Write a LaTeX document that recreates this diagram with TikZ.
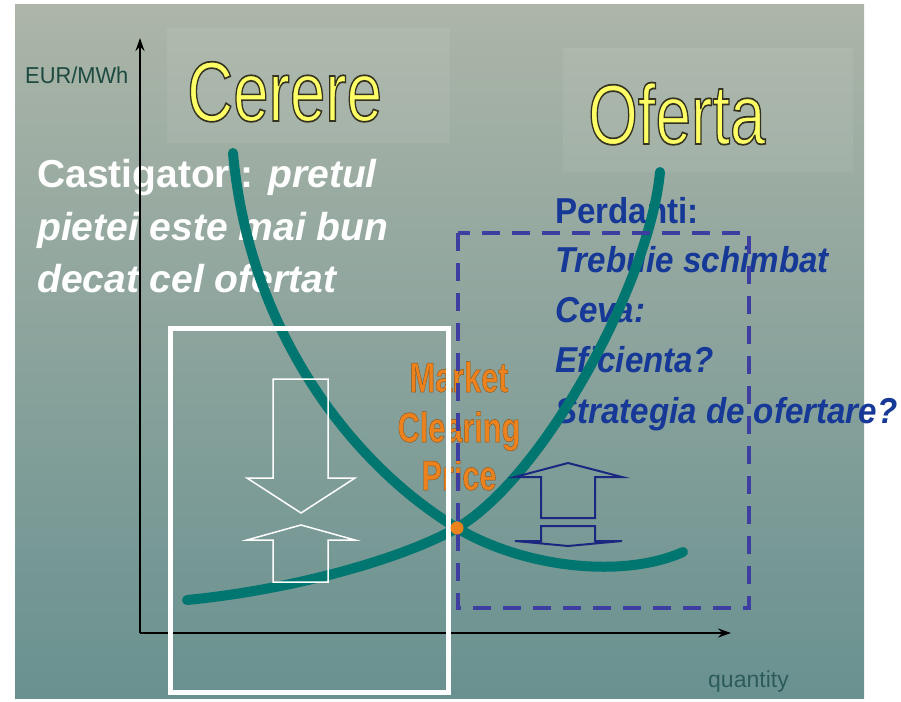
\documentclass[tikz,border=0pt]{standalone}
\usepackage{fontspec}
\setmainfont{Liberation Sans}
\newfontfamily\outlinefont[FakeBold=2]{Liberation Sans}
\newfontfamily\thinrimfont[FakeBold=1.2]{Liberation Sans}
\usepackage{tikz}
\usetikzlibrary{calc,positioning,backgrounds,arrows.meta}

\definecolor{slidetop}{RGB}{172,181,168}
\definecolor{slidemid}{RGB}{139,159,153}
\definecolor{slidebot}{RGB}{105,145,144}
\definecolor{curveteal}{RGB}{0,118,112}
\definecolor{titleyellow}{RGB}{255,255,102}
\definecolor{lossblue}{RGB}{22,56,150}
\definecolor{boxblue}{RGB}{62,62,160}
\definecolor{arrownavy}{RGB}{28,40,128}
\definecolor{mcporange}{RGB}{236,130,30}
\definecolor{axisgreen}{RGB}{28,74,64}
\definecolor{quantgreen}{RGB}{44,92,90}

\newcommand{\narrowtext}[2][0.75]{\scalebox{#1}[1]{#2}}
% filled text with a dark rim (stroke colour given as r g b)
\newcommand{\rimmed}[2]{{\special{pdf:code #1 RG}#2}}

\begin{document}
\begin{tikzpicture}[x=1pt,y=-1pt,
		slidetext/.style={inner sep=0pt,anchor=base west},
		titletext/.style={slidetext,font=\outlinefont\fontsize{85}{85}\selectfont,text=titleyellow},
		wintext/.style={slidetext,font=\fontsize{39}{39}\selectfont\bfseries,text=white},
		losstext/.style={slidetext,font=\fontsize{36}{36}\selectfont\bfseries,text=lossblue},
		mcptext/.style={inner sep=0pt,anchor=base,font=\thinrimfont\fontsize{42}{42}\selectfont\bfseries,text=mcporange},
		axislabel/.style={slidetext,font=\fontsize{23}{23}\selectfont},
		axis/.style={line width=2.5pt,-{Stealth[length=13pt,width=9pt]}},
		curve/.style={curveteal,line width=10pt,line cap=round},
		winarrow/.style={white,line width=1.5pt,line join=miter},
		lossarrow/.style={arrownavy,line width=2pt,line join=miter}]
		\useasboundingbox (0,0) rectangle (901,701);
		\fill[white] (0,0) rectangle (901,701);
		% slide
		\shade[top color=slidetop,middle color=slidemid,bottom color=slidebot] (15,5) rectangle (864,698);
		\fill[white,opacity=0.07] (167,28) rectangle (450,143);
		\fill[white,opacity=0.07] (563,48) rectangle (853,172);
		% titles
		\node(cerere) [titletext] at (187,121) {\narrowtext{\rimmed{0.2 0.2 0.12}{Cerere}}};
		\node(oferta) [titletext] at (588,144) {\narrowtext{\rimmed{0.2 0.2 0.12}{Oferta}}};
		% winners
		\node(win1) [wintext] at (37,187) {Castigatori: \textit{pretul}};
		\node(win2) [wintext] at (37,240) {\textit{pietei este mai bun}};
		\node(win3) [wintext] at (37,292) {\textit{decat cel ofertat}};
		% losers
		\node(loss1) [losstext] at (555,223) {\narrowtext[0.92]{Perdanti:}};
		\node(loss2) [losstext] at (555,272) {\narrowtext[0.92]{\textit{Trebuie schimbat}}};
		\node(loss3) [losstext] at (555,322) {\narrowtext[0.92]{\textit{Ceva:}}};
		\node(loss4) [losstext] at (555,372) {\narrowtext[0.92]{\textit{Eficienta?}}};
		\node(loss5) [losstext] at (555,423) {\narrowtext[0.92]{\textit{Strategia de ofertare?}}};
		% market clearing price
		\node(mcp1) [mcptext] at (459,392) {\narrowtext[0.73]{\rimmed{0.55 0.35 0.12}{Market}}};
		\node(mcp2) [mcptext] at (459,442) {\narrowtext[0.73]{\rimmed{0.55 0.35 0.12}{Clearing}}};
		\node(mcp3) [mcptext] at (459,490) {\narrowtext[0.73]{\rimmed{0.55 0.35 0.12}{Price}}};
		% axes
		\node(eur) [axislabel,text=axisgreen] at (25,83) {\narrowtext[0.95]{EUR/MWh}};
		\node(qty) [axislabel,text=quantgreen] at (708,687) {quantity};
		\coordinate (O) at (140,633);
		\coordinate (ytip) at (140,38);
		\coordinate (xtip) at (731,633);
		\draw[axis] (O) -- (ytip);
		\draw[axis] (O) -- (xtip);
		% demand and supply, meeting at the clearing point
		\coordinate (mcp) at (457,528);
		\draw[curve] (233,153) .. controls (250,340) and (360,470) .. (mcp)
			.. controls (520,566) and (620,580) .. (683,552);
		\draw[curve] (187,600) .. controls (290,590) and (400,560) .. (mcp)
			.. controls (545,476) and (650,280) .. (660,172);
		% boxes
		\draw[white,line width=5pt] (170,328) rectangle (448,692);
		\draw[boxblue,line width=3.5pt,dash pattern=on 18pt off 12pt] (458,233) rectangle (749,608);
		% arrows
		\draw[winarrow] (273,379) -- (328,379) -- (328,478) -- (355,478) -- (301,513) -- (247,478) -- (273,478) -- cycle;
		\draw[winarrow] (301,525) -- (355,540) -- (328,540) -- (328,582) -- (273,582) -- (273,540) -- (247,540) -- cycle;
		\draw[lossarrow] (568,463) -- (622,477) -- (595,477) -- (595,518) -- (541,518) -- (541,477) -- (515,477) -- cycle;
		\draw[lossarrow] (541,526) -- (595,526) -- (595,541) -- (622,541) -- (568,546) -- (515,541) -- (541,541) -- cycle;
		\fill[mcporange] (mcp) circle (6.5);
\end{tikzpicture}
\end{document}
